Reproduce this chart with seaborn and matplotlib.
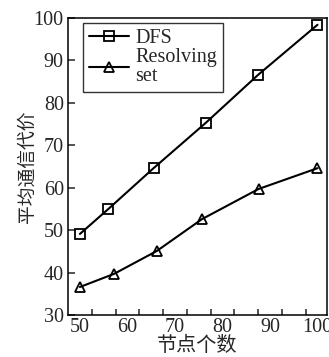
import matplotlib
matplotlib.use("Agg")
import matplotlib.pyplot as plt
import seaborn as sns
import pandas as pd
from matplotlib.ticker import FixedLocator

# Data
dfs_x = [50, 56, 65.5, 76.5, 87.5, 100]
dfs_y = [49.1, 55.0, 64.6, 75.3, 86.6, 98.4]
rs_x = [50, 57.2, 66.2, 75.7, 87.6, 100]
rs_y = [36.6, 39.7, 45.1, 52.6, 59.7, 64.6]
series_names = ["DFS", "Resolving\nset"]
x_ticks = [50, 60, 70, 80, 90, 100]
y_ticks = [30, 40, 50, 60, 70, 80, 90, 100]

sns.set_style("ticks")
plt.rcParams['font.family'] = ['Liberation Serif', 'Noto Sans CJK SC']
plt.rcParams['axes.linewidth'] = 1.1

df = pd.DataFrame({
    "x": dfs_x + rs_x,
    "y": dfs_y + rs_y,
    "s": [series_names[0]] * len(dfs_x) + [series_names[1]] * len(rs_x),
})

fig = plt.figure(figsize=(3.29, 3.57), dpi=100)
ax = fig.add_axes([0.2067, 0.1176, 0.7872, 0.832])

sns.lineplot(data=df, x="x", y="y", hue="s", style="s",
             palette=["black", "black"], markers=["s", "^"], dashes=False,
             markersize=7.5, markerfacecolor="none", markeredgecolor="black",
             markeredgewidth=1.3, linewidth=1.5, ax=ax, sort=False)

ax.set_xlim(47.5, 102)
ax.set_ylim(30, 100)
ax.set_xticks(x_ticks)
ax.set_yticks(y_ticks)
ax.xaxis.set_minor_locator(FixedLocator([52.5 + 5 * k for k in range(10)]))
ax.tick_params(axis="x", which="major", length=0, pad=2, labelsize=14.5)
ax.tick_params(axis="x", which="minor", direction="in", length=4, width=1.1)
ax.tick_params(axis="y", which="major", direction="in", length=5, width=1.1,
               pad=3, labelsize=14.5)
for lab in ax.get_xticklabels() + ax.get_yticklabels():
    lab.set_family("Liberation Serif")

ax.set_xlabel("节点个数", family=["Noto Sans CJK SC"], fontsize=14.5, labelpad=-1)
ax.set_ylabel("平均通信代价", family=["Noto Sans CJK SC"], fontsize=13.5, labelpad=-3)

for sp in ax.spines.values():
    sp.set_visible(True)
    sp.set_color("black")
    sp.set_linewidth(1.1)

handles, labels = ax.get_legend_handles_labels()
leg = ax.legend(handles, labels, loc="upper left", bbox_to_anchor=(0.058, 0.982),
                fontsize=14.5, frameon=True, fancybox=False, edgecolor="black",
                handlelength=2.0, handletextpad=0.3, borderpad=0.3,
                labelspacing=0.0, borderaxespad=0)
leg.get_frame().set_linewidth(1.0)
for t in leg.get_texts():
    t.set_family("Liberation Serif")
    t.set_linespacing(0.95)

fig.savefig("out.png", dpi=100)
